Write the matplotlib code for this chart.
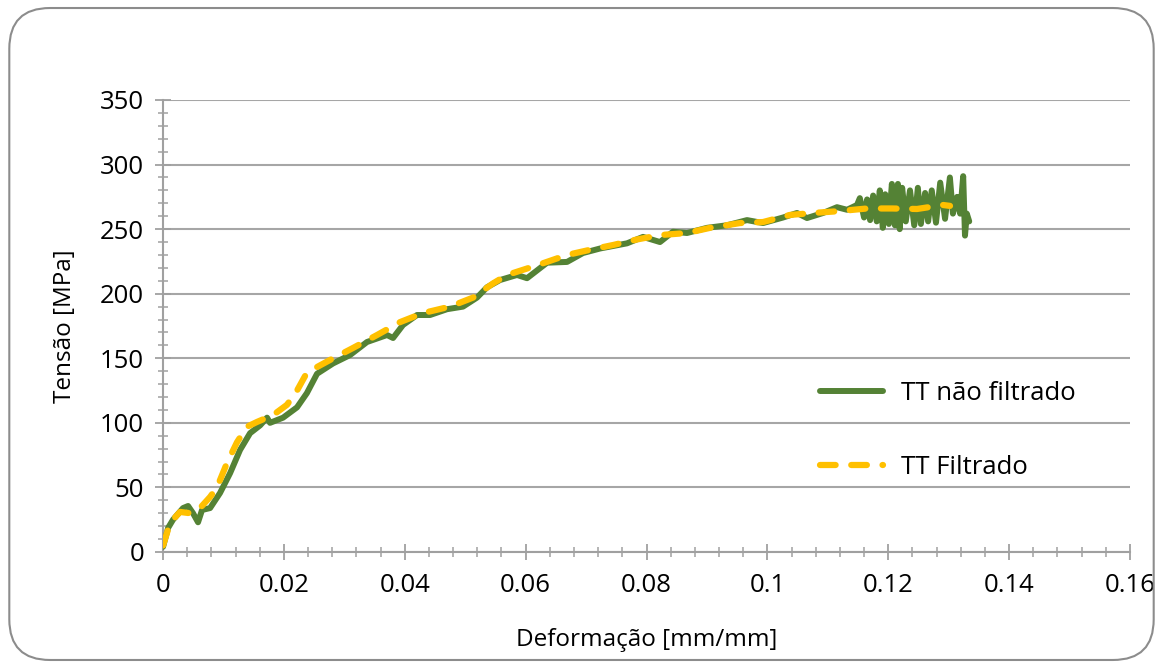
import matplotlib.pyplot as plt
from matplotlib.patches import FancyBboxPatch
from matplotlib.ticker import MultipleLocator

plt.rcParams['font.family'] = ['Open Sans', 'DejaVu Sans']

# TT nao filtrado (raw signal)
raw_x = [0.0, 0.00083, 0.00165, 0.00331, 0.00414, 0.00496, 0.00579, 0.00645,
         0.00778, 0.00943, 0.01109, 0.01274, 0.0144, 0.01605, 0.01721, 0.0177,
         0.01986, 0.02217, 0.0238, 0.02548, 0.02813, 0.03094, 0.03375, 0.03706,
         0.03806, 0.03971, 0.04203, 0.04418, 0.04699, 0.04964, 0.05195, 0.05361,
         0.05576, 0.05857, 0.06023, 0.06354, 0.06685, 0.06949, 0.07231, 0.07677,
         0.07942, 0.08223, 0.08438, 0.0867, 0.09001, 0.09332, 0.09663, 0.09928,
         0.10259, 0.1049, 0.10656, 0.10921, 0.11152, 0.11318, 0.11483,
         0.1153, 0.1160, 0.1165, 0.1170, 0.1175, 0.1181, 0.1186, 0.1191,
         0.1195, 0.1201, 0.1206, 0.1211, 0.1216, 0.1219, 0.1223, 0.1229,
         0.1236, 0.1243, 0.1249, 0.1254, 0.1261, 0.1266, 0.1272, 0.1279,
         0.1286, 0.1294, 0.1302, 0.1307, 0.1314, 0.1319, 0.1324, 0.1327,
         0.1330, 0.1334]
raw_y = [4, 18.6, 25, 34, 35.6, 30, 23, 32.5,
         34, 45.7, 61, 79, 92, 98, 104, 100,
         104, 112, 123, 138, 146, 152.5, 162.6, 168,
         165.7, 175.8, 183.5, 183.5, 188, 190, 197, 205,
         210.6, 214.5, 212, 224, 224.6, 231.5, 235, 239,
         244, 240, 248, 247, 251, 253, 257, 254.7,
         259, 262.5, 258.6, 262.5, 267, 265, 268.7,
         274, 259, 273, 257, 276, 256, 280, 251,
         277, 254, 285, 253, 285, 250, 282, 256,
         280, 253, 282, 254, 278, 256, 280, 255,
         286, 258, 290, 262, 275, 262, 291, 245,
         262, 256]

# TT Filtrado (smoothed)
filt_x = [0.0, 0.00116, 0.00281, 0.00447, 0.00612, 0.00778, 0.00893, 0.01059,
          0.01224, 0.0139, 0.01555, 0.0182, 0.02052, 0.02217, 0.02382, 0.02763,
          0.03144, 0.03541, 0.03922, 0.04302, 0.04749, 0.0513, 0.05461, 0.05692,
          0.06189, 0.06685, 0.07065, 0.07446, 0.07843, 0.08223, 0.0867, 0.09051,
          0.09547, 0.09928, 0.10375, 0.10755, 0.11202, 0.11649, 0.12063, 0.12476,
          0.12906, 0.13022]
filt_y = [5, 22.5, 31, 30, 34, 42.6, 50, 69,
          85, 97, 100.7, 106, 114, 125, 139, 148.7,
          158, 168, 178, 185, 190, 197, 208, 214.5,
          222, 230, 234, 237.7, 242, 245.4, 247, 251,
          254.7, 255.5, 261, 262.5, 264, 266, 266, 265.6,
          268.7, 268]

x_labels = ['0', '0.02', '0.04', '0.06', '0.08', '0.1', '0.12', '0.14', '0.16']

fig = plt.figure(figsize=(11.63, 6.68), dpi=100)
ax = fig.add_axes([0.1402, 0.1737, 0.8314, 0.6766])

ax.plot(raw_x, raw_y, color='#548235', lw=4.3, solid_joinstyle='round',
        solid_capstyle='round', label='TT não filtrado', zorder=3)
ax.plot(filt_x, filt_y, color='#FFC000', lw=4.5, dashes=(2.5, 2.5),
        dash_capstyle='round', label='TT Filtrado', zorder=4)

ax.set_xlim(0, 0.16)
ax.set_ylim(0, 350)
ax.set_xticks([i * 0.02 for i in range(9)])
ax.set_xticklabels(x_labels)
ax.xaxis.set_minor_locator(MultipleLocator(0.004))
ax.yaxis.set_major_locator(MultipleLocator(50))
ax.yaxis.set_minor_locator(MultipleLocator(10))

ax.grid(axis='y', which='major', color='#a6a6a6', lw=1.5)
ax.set_axisbelow(True)
for s in ['top', 'right']:
    ax.spines[s].set_visible(False)
for s in ['left', 'bottom']:
    ax.spines[s].set_color('#a0a0a0')
    ax.spines[s].set_linewidth(1.5)

ax.tick_params(which='major', direction='inout', length=11, width=1.3,
               color='#a0a0a0', labelsize=18.5, labelcolor='black')
ax.tick_params(which='minor', direction='inout', length=7, width=1.1, color='#a0a0a0')
ax.tick_params(axis='y', which='major', pad=8)
ax.tick_params(axis='x', which='major', pad=10)

ax.set_xlabel('Deformação [mm/mm]', fontsize=17.5, labelpad=21)
ax.set_ylabel('Tensão [MPa]', fontsize=17.5, labelpad=17)

ax.legend(loc='center left', bbox_to_anchor=(0.656, 0.268), frameon=False,
          fontsize=18.5, handlelength=2.45, handletextpad=0.7, labelspacing=1.9)

border = FancyBboxPatch((0.008, 0.012), 0.984, 0.976, boxstyle='round,pad=0,rounding_size=0.035',
                        transform=fig.transFigure, facecolor='none', edgecolor='#8c8c8c',
                        lw=1.5, mutation_aspect=1163 / 668)
fig.patches.append(border)

fig.savefig('out.png', dpi=100)
